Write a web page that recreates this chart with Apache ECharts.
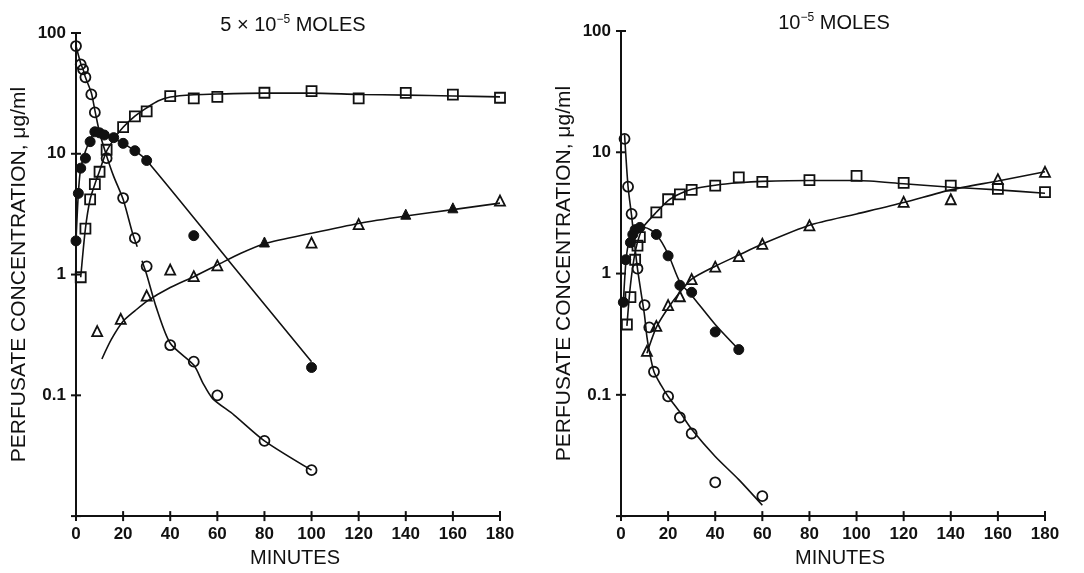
<!DOCTYPE html>
<html>
<head>
<meta charset="utf-8">
<script src="https://cdn.jsdelivr.net/npm/echarts@6/dist/echarts.min.js"></script>
<style>
html,body{margin:0;padding:0;background:#fff;}
#chart{width:1084px;height:573px;}
</style>
</head>
<body>
<div id="chart"></div>
<script>
// ---------- DATA ----------
const xTickValues = [0, 20, 40, 60, 80, 100, 120, 140, 160, 180];
const yTickExps = [-2, -1, 0, 1, 2];
const yTickLabels = {'-2': '', '-1': '0.1', '0': '1', '1': '10', '2': '100'};
const titleLeft = '5 × 10{s|−5} MOLES';
const titleRight = '10{s|−5} MOLES';
const xName = 'MINUTES';
const yName = 'PERFUSATE CONCENTRATION, μg/ml';

// Left panel (5 x 10^-5 moles) – measured points
const L_openCircle_t = [0, 2, 3, 4, 6.5, 8, 13, 20, 25, 30, 40, 50, 60, 80, 100];
const L_openCircle_v = [78, 55, 50, 43, 31, 22, 9.2, 4.3, 2.0, 1.17, 0.26, 0.19, 0.10, 0.042, 0.024];
const L_filledCircle_t = [0, 1, 2, 4, 6, 8, 10, 12, 16, 20, 25, 30, 50, 100];
const L_filledCircle_v = [1.9, 4.7, 7.6, 9.2, 12.6, 15.2, 14.9, 14.3, 13.6, 12.2, 10.6, 8.8, 2.1, 0.17];
const L_square_t = [2, 4, 6, 8, 10, 13, 20, 25, 30, 40, 50, 60, 80, 100, 120, 140, 160, 180];
const L_square_v = [0.95, 2.4, 4.2, 5.6, 7.1, 10.8, 16.6, 20.4, 22.4, 30, 28.7, 29.6, 32, 33, 28.7, 31.9, 30.9, 29.1];
const L_openTri_t = [9, 19, 30, 40, 50, 60, 100, 120, 180];
const L_openTri_v = [0.34, 0.43, 0.67, 1.1, 0.97, 1.19, 1.84, 2.62, 4.1];
const L_filledTri_t = [80, 140, 160];
const L_filledTri_v = [1.86, 3.16, 3.57];

// Left panel – fitted curves
const L_circleCurve_t = [0, 2, 3, 4, 6.5, 8, 10, 13, 16, 20, 24, 26, 26.5, 28, 30, 34, 40, 50, 54, 58, 67, 80, 100];
const L_circleCurve_v = [78, 56, 50, 43, 32, 23, 15, 9.6, 6.5, 4.2, 2.2, 1.7, null, 1.3, 1.0, 0.54, 0.27, 0.178, 0.125, 0.094, 0.069, 0.042, 0.024];
const L_filledCurve_t = [0, 1, 2, 4, 6, 8, 10, 13, 16, 20, 25, 30, 65, 100];
const L_filledCurve_v = [1.9, 4.7, 7.6, 10.5, 13, 15, 15, 14.2, 13.4, 12.2, 10.6, 8.8, 1.29, 0.19];
const L_squareCurve_t = [2, 4, 6, 8, 10, 13, 17, 20, 25, 30, 35, 40, 50, 60, 80, 100, 120, 140, 160, 180];
const L_squareCurve_v = [0.95, 2.4, 4.2, 5.6, 7.2, 10.5, 14, 16.6, 20.5, 24, 27.5, 29.5, 30.8, 31.3, 31.8, 31.8, 31, 30.6, 30.1, 29.6];
const L_triCurve_t = [11, 15, 20, 25, 30, 40, 50, 60, 70, 80, 100, 120, 140, 160, 180];
const L_triCurve_v = [0.2, 0.29, 0.41, 0.5, 0.6, 0.78, 0.96, 1.2, 1.5, 1.8, 2.2, 2.65, 3.05, 3.45, 3.9];

// Right panel (10^-5 moles) – measured points
const R_openCircle_t = [1.5, 3, 4.5, 7, 10, 12, 14, 20, 25, 30, 40, 60];
const R_openCircle_v = [12.9, 5.2, 3.1, 1.1, 0.55, 0.36, 0.155, 0.097, 0.065, 0.048, 0.019, 0.0146];
const R_filledCircle_t = [1, 2, 4, 5, 6, 8, 15, 20, 25, 30, 40, 50];
const R_filledCircle_v = [0.58, 1.3, 1.8, 2.1, 2.3, 2.4, 2.1, 1.4, 0.8, 0.7, 0.33, 0.236];
const R_square_t = [2.5, 4, 6, 7, 8, 15, 20, 25, 30, 40, 50, 60, 80, 100, 120, 140, 160, 180];
const R_square_v = [0.38, 0.64, 1.3, 1.7, 2.0, 3.2, 4.1, 4.5, 4.9, 5.3, 6.2, 5.7, 5.9, 6.4, 5.6, 5.3, 5.0, 4.7];
const R_openTri_t = [11, 15, 20, 25, 30, 40, 50, 60, 80, 120, 140, 160, 180];
const R_openTri_v = [0.23, 0.37, 0.55, 0.65, 0.9, 1.14, 1.39, 1.76, 2.5, 3.9, 4.1, 6.0, 6.9];

// Right panel – fitted curves
const R_circleCurve_t = [1.5, 3, 4.5, 6, 7, 8.5, 10, 11, 12, 14, 17, 20, 25, 30, 40, 50, 60];
const R_circleCurve_v = [14, 5.2, 3.0, 1.6, 1.1, 0.7, 0.45, 0.3, 0.23, 0.155, 0.12, 0.097, 0.072, 0.052, 0.031, 0.02, 0.0123];
const R_filledCurve_t = [1, 2, 3, 5, 7, 10, 15, 20, 25, 30, 40, 50];
const R_filledCurve_v = [0.58, 1.2, 1.7, 2.2, 2.4, 2.4, 2.1, 1.45, 0.85, 0.66, 0.38, 0.236];
const R_squareCurve_t = [2.5, 4, 6, 8, 10, 15, 20, 25, 30, 40, 50, 60, 80, 100, 120, 140, 160, 180];
const R_squareCurve_v = [0.37, 0.8, 1.5, 2.1, 2.5, 3.2, 4.0, 4.55, 4.95, 5.35, 5.6, 5.75, 5.85, 5.85, 5.5, 5.15, 4.9, 4.6];
const R_triCurve_t = [11, 15, 20, 25, 30, 40, 50, 60, 80, 100, 120, 140, 160, 180];
const R_triCurve_v = [0.22, 0.36, 0.52, 0.7, 0.9, 1.15, 1.42, 1.75, 2.5, 3.1, 3.85, 4.9, 5.8, 6.9];

// ---------- CHART ----------
const zip = (t, v) => t.map((x, i) => [x, v[i]]);
const INK = '#111';
const FONT = 'Liberation Sans, Arial, sans-serif';
const X_MIN = 0, Y_MIN = 0.01;

function curve(t, v, g) {
  return {
    type: 'line', xAxisIndex: g, yAxisIndex: g, data: zip(t, v),
    showSymbol: false, smooth: 0.25, connectNulls: false, silent: true, z: 2,
    lineStyle: { color: INK, width: 1.6 }
  };
}
function pts(t, v, g, symbol, filled, size) {
  return {
    type: 'scatter', xAxisIndex: g, yAxisIndex: g, data: zip(t, v),
    symbol: symbol, symbolSize: size, silent: true, z: 3,
    itemStyle: filled
      ? { color: INK, borderColor: INK, borderWidth: 1, opacity: 1 }
      : { color: 'rgba(0,0,0,0)', borderColor: INK, borderWidth: 1.8, opacity: 1 }
  };
}
// crossing ("+") tick marks placed on the axes through the axis scales
function crossTicks(g) {
  return [
    { type: 'scatter', xAxisIndex: g, yAxisIndex: g, silent: true, clip: false, z: 5,
      data: xTickValues.map(x => [x, Y_MIN]), symbol: 'rect', symbolSize: [2, 10],
      itemStyle: { color: INK, opacity: 1 } },
    { type: 'scatter', xAxisIndex: g, yAxisIndex: g, silent: true, clip: false, z: 5,
      data: yTickExps.map(k => [X_MIN, Math.pow(10, k)]), symbol: 'rect', symbolSize: [10, 2],
      itemStyle: { color: INK, opacity: 1 } }
  ];
}

const GW = 424, GH = 493.5;
const grids = [
  { left: 76, top: 33, width: GW, height: GH },
  { left: 621, top: 31, width: GW, height: GH }
];

function xAxis(g) {
  return {
    type: 'value', gridIndex: g, min: X_MIN, max: 180, interval: 20, position: 'bottom',
    splitLine: { show: false },
    name: xName, nameLocation: 'middle', nameGap: 28,
    nameTextStyle: { color: INK, fontFamily: FONT, fontSize: 20, padding: [0, 0, 0, 14] },
    axisLine: { onZero: false, lineStyle: { color: INK, width: 2 } },
    axisTick: { show: false },
    axisLabel: { color: INK, fontFamily: FONT, fontSize: 17, fontWeight: 'bold', margin: 10,
      formatter: v => xTickValues.includes(v) ? String(v) : '' }
  };
}
function yAxis(g) {
  return {
    type: 'log', logBase: 10, gridIndex: g, min: Y_MIN, max: 100, position: 'left',
    splitLine: { show: false }, minorTick: { show: false },
    name: yName, nameLocation: 'middle', nameGap: 46, nameRotate: 90,
    nameTextStyle: { color: INK, fontFamily: FONT, fontSize: 21 },
    axisLine: { onZero: false, lineStyle: { color: INK, width: 2 } },
    axisTick: { show: false },
    axisLabel: { color: INK, fontFamily: FONT, fontSize: 17, fontWeight: 'bold', margin: 10,
      formatter: v => { const k = String(Math.round(Math.log10(v))); return yTickLabels[k] !== undefined ? yTickLabels[k] : ''; } }
  };
}

const titleRich = {
  s: { fontSize: 12, fontFamily: FONT, color: INK, padding: [0, 0, 10, 0] }
};

const option = {
  animation: false,
  backgroundColor: '#fff',
  title: [
    { text: titleLeft, left: 288, top: 9, textAlign: 'center',
      textStyle: { fontSize: 20, fontWeight: 'normal', fontFamily: FONT, color: INK, rich: titleRich } },
    { text: titleRight, left: 829, top: 7, textAlign: 'center',
      textStyle: { fontSize: 20, fontWeight: 'normal', fontFamily: FONT, color: INK, rich: titleRich } }
  ],
  grid: grids,
  xAxis: [xAxis(0), xAxis(1)],
  yAxis: [yAxis(0), yAxis(1)],
  series: [].concat(
    crossTicks(0),
    crossTicks(1),
    [
      curve(L_circleCurve_t, L_circleCurve_v, 0),
      curve(L_filledCurve_t, L_filledCurve_v, 0),
      curve(L_squareCurve_t, L_squareCurve_v, 0),
      curve(L_triCurve_t, L_triCurve_v, 0),
      pts(L_openCircle_t, L_openCircle_v, 0, 'circle', false, 10),
      pts(L_filledCircle_t, L_filledCircle_v, 0, 'circle', true, 10),
      pts(L_square_t, L_square_v, 0, 'rect', false, 10),
      pts(L_openTri_t, L_openTri_v, 0, 'triangle', false, 10),
      pts(L_filledTri_t, L_filledTri_v, 0, 'triangle', true, 10),

      curve(R_circleCurve_t, R_circleCurve_v, 1),
      curve(R_filledCurve_t, R_filledCurve_v, 1),
      curve(R_squareCurve_t, R_squareCurve_v, 1),
      curve(R_triCurve_t, R_triCurve_v, 1),
      pts(R_openCircle_t, R_openCircle_v, 1, 'circle', false, 10),
      pts(R_filledCircle_t, R_filledCircle_v, 1, 'circle', true, 10),
      pts(R_square_t, R_square_v, 1, 'rect', false, 10),
      pts(R_openTri_t, R_openTri_v, 1, 'triangle', false, 10)
    ]
  )
};

const chart = echarts.init(document.getElementById('chart'), null, { renderer: 'canvas' });
chart.setOption(option);
</script>
</body>
</html>
